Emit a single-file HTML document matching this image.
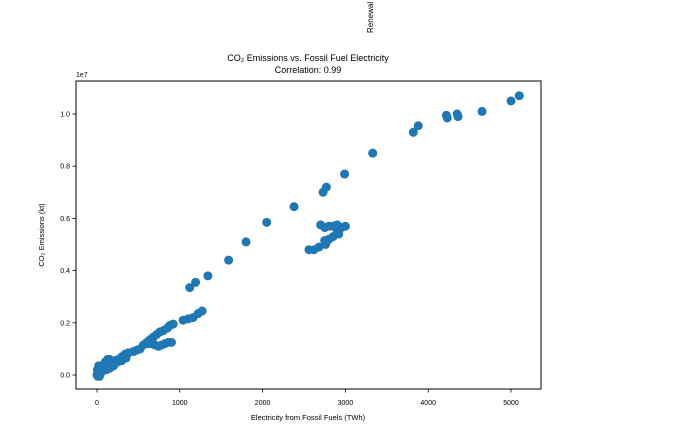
<!DOCTYPE html>
<html><head><meta charset="utf-8"><style>
body{margin:0;background:#fff;font-family:"Liberation Sans","DejaVu Sans",sans-serif}
</style></head><body>
<svg width="680" height="426" xmlns="http://www.w3.org/2000/svg">
<text x="373" y="33" font-size="8" transform="rotate(-90 373 33)">Renewal</text>
<text x="308" y="61" font-size="9" text-anchor="middle">CO₂ Emissions vs. Fossil Fuel Electricity</text>
<text x="308" y="73" font-size="9" text-anchor="middle">Correlation: 0.99</text>
<g id="plot"></g>
<rect x="76" y="81" width="465" height="308" fill="none" stroke="#000" stroke-width="1"/>
<text x="76" y="77" font-size="7">1e7</text>
<text x="308" y="420" font-size="7.5" text-anchor="middle">Electricity from Fossil Fuels (TWh)</text>
<text x="44" y="235" font-size="7.5" text-anchor="middle" transform="rotate(-90 44 235)">CO₂ Emissions (kt)</text>
</svg>
<script>
const xTicks=[0,1000,2000,3000,4000,5000];
const yTicks=[0,0.2,0.4,0.6,0.8,1.0];
const yTickLabels=["0.0","0.2","0.4","0.6","0.8","1.0"];
const xVals=[5100,5000,4650,4350,4360,4220,4230,3880,3820,3330,2990,2770,2730,2380,2050,1800,1590,1340,1190,1120,1270,1220,1160,1100,1040,920,880,
2700,2750,2800,2850,2900,2950,3000,2900,2920,2750,2800,2760,2680,2620,2560,2850,
900,860,820,780,740,700,660,620,
850,800,760,720,680,640,600,560,520,480,440,380,340,300,260,220,180,140,120,100,80,60,40,20,10,0,5,30,130,150,200,250,300,350,100,50,20,10,30,150,200,110];
const yVals=[1.07,1.05,1.01,1.0,0.99,0.995,0.985,0.955,0.93,0.85,0.77,0.72,0.70,0.645,0.585,0.51,0.44,0.38,0.355,0.335,0.245,0.235,0.22,0.215,0.21,0.195,0.19,
0.575,0.565,0.57,0.57,0.575,0.565,0.57,0.545,0.54,0.515,0.52,0.50,0.49,0.48,0.48,0.53,
0.125,0.125,0.12,0.115,0.11,0.115,0.12,0.12,
0.18,0.17,0.165,0.155,0.145,0.135,0.125,0.115,0.10,0.095,0.09,0.085,0.08,0.07,0.06,0.055,0.05,0.045,0.055,0.05,0.04,0.03,0.02,0.01,0.005,0,0.02,0.03,0.06,0.06,0.04,0.05,0.055,0.065,0.03,0.01,0.035,-0.005,-0.005,0.025,0.035,0.02];
const NS="http://www.w3.org/2000/svg";
const g=document.getElementById('plot');
const sx=v=>97+v*0.0828;
const sy=v=>375-v*261;
function mk(t,a){const e=document.createElementNS(NS,t);for(const k in a)e.setAttribute(k,a[k]);g.appendChild(e);return e;}
xTicks.forEach(t=>{
 const l=mk('line',{x1:sx(t),x2:sx(t),y1:389,y2:392.5,stroke:'#000','stroke-width':0.8});
 
 
 const tx=mk('text',{x:sx(t),y:405,'font-size':7,'text-anchor':'middle'});tx.textContent=t;
 
 
});
yTicks.forEach((t,i)=>{
 const l=mk('line',{x1:72.5,x2:76,y1:sy(t),y2:sy(t),stroke:'#000','stroke-width':0.8});
 
 
 const tx=mk('text',{x:70,y:sy(t)+2.5,'font-size':7,'text-anchor':'end'});tx.textContent=yTickLabels[i];
 
 
});
xVals.forEach((x,i)=>{
 const c=mk('circle',{cx:sx(x),cy:sy(yVals[i]),r:4.5,fill:'#1f77b4'});
 
 
});
</script>
</body></html>
